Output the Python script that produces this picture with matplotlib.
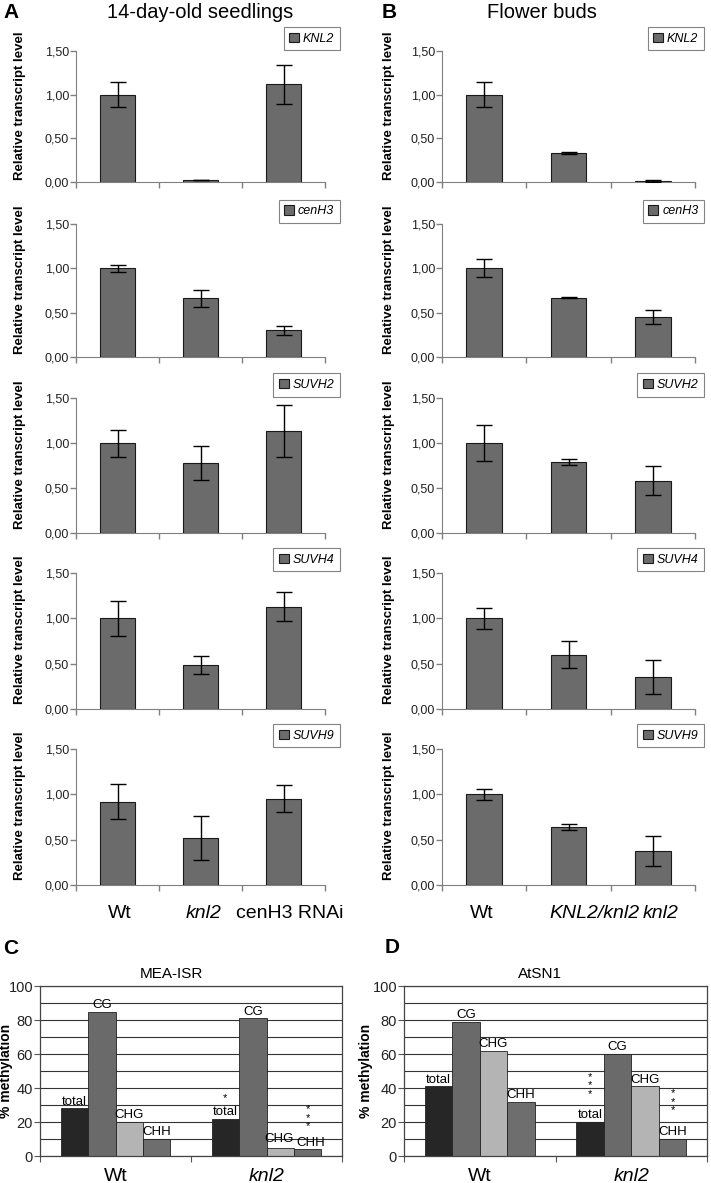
import numpy as np
import matplotlib.pyplot as plt
from matplotlib.ticker import MultipleLocator

plt.rcParams['font.family'] = ['Liberation Sans', 'DejaVu Sans']

# expression data (relative transcript level)
genes = ['KNL2', 'cenH3', 'SUVH2', 'SUVH4', 'SUVH9']
seed_labels = ['Wt', 'knl2', 'cenH3 RNAi']
seed_italic = [False, True, False]
seed_means = [[1.00, 0.02, 1.12],
              [1.00, 0.66, 0.30],
              [1.00, 0.78, 1.13],
              [1.00, 0.49, 1.13],
              [0.92, 0.52, 0.95]]
seed_err = [[0.145, 0.0, 0.225],
            [0.04, 0.10, 0.05],
            [0.15, 0.19, 0.29],
            [0.195, 0.10, 0.155],
            [0.19, 0.24, 0.15]]

bud_labels = ['Wt', 'KNL2/knl2', 'knl2']
bud_italic = [False, True, True]
bud_means = [[1.00, 0.33, 0.01],
             [1.00, 0.67, 0.45],
             [1.00, 0.79, 0.58],
             [1.00, 0.60, 0.35],
             [1.00, 0.64, 0.37]]
bud_err = [[0.14, 0.015, 0.01],
           [0.10, 0.01, 0.08],
           [0.20, 0.03, 0.16],
           [0.115, 0.15, 0.185],
           [0.06, 0.03, 0.165]]

# methylation data (%)
contexts = ['total', 'CG', 'CHG', 'CHH']
meth_groups = ['Wt', 'knl2']
mea_wt = [28, 85, 20, 10]
mea_knl2 = [22, 81, 5, 4]
atsn1_wt = [41, 79, 62, 32]
atsn1_knl2 = [20, 60, 41, 10]
# (group, context, number of stars, height of lowest star)
mea_stars = [(1, 0, 1, 34), (1, 3, 3, 17.6)]
atsn1_stars = [(1, 0, 3, 36.5), (1, 3, 3, 27)]

W, H = 711, 1183
fig = plt.figure(figsize=(W / 100, H / 100), dpi=100)


def ax_px(l, t, r, b):
    return fig.add_axes([l / W, 1 - b / H, (r - l) / W, (b - t) / H])


rows_px = [(51, 182), (224, 357), (398, 533), (573, 709), (749, 885)]


def draw_expr(ax, means, errs, gene, leg_x, ylab_x):
    x = np.arange(3)
    ax.bar(x, means, width=0.42, color='#6b6b6b', edgecolor='#1a1a1a',
           linewidth=0.8, label=gene, zorder=2)
    ax.errorbar(x, means, yerr=errs, fmt='none', ecolor='black',
                elinewidth=1, capsize=6, capthick=1, zorder=3)
    ax.set_xlim(-0.5, 2.5)
    ax.set_ylim(0, 1.5)
    for s in ['top', 'right']:
        ax.spines[s].set_visible(False)
    for s in ['left', 'bottom']:
        ax.spines[s].set_color('#808080')
    ax.set_yticks([0, 0.5, 1.0, 1.5], ['0,00', '0,50', '1,00', '1,50'])
    ax.set_xticks([-0.5, 0.5, 1.5, 2.5], [])
    ax.tick_params(colors='#808080', labelcolor='#222', length=4, width=1,
                   labelsize=9, pad=1)
    ax.set_ylabel('Relative transcript level', fontweight='bold', fontsize=9.5)
    ax.yaxis.set_label_coords(ylab_x, 0.58)
    leg = ax.legend(loc='upper right', bbox_to_anchor=(leg_x, 1.183),
                    borderaxespad=0, fancybox=False, handlelength=0.8,
                    handleheight=0.8, handletextpad=0.3, borderpad=0.45,
                    prop=dict(style='italic', size=9))
    leg.get_frame().set_edgecolor('#666')
    leg.get_frame().set_linewidth(0.8)


def cat_labels(ax, labels, italic, dy, dxs):
    for i, (lab, it) in enumerate(zip(labels, italic)):
        ax.annotate(lab, (i, 0), xycoords=('data', 'axes fraction'),
                    xytext=(dxs[i], -dy), textcoords='offset pixels',
                    ha='center', va='baseline', fontsize=14,
                    style='italic' if it else 'normal')


for r, (t, b) in enumerate(rows_px):
    axa = ax_px(76, t, 325, b)
    draw_expr(axa, seed_means[r], seed_err[r], genes[r], 1.06, -0.20)
    axb = ax_px(442, t, 695, b)
    draw_expr(axb, bud_means[r], bud_err[r], genes[r], 1.036, -0.186)
    if r == len(rows_px) - 1:
        cat_labels(axa, seed_labels, seed_italic, 33, [2, 3, 6])
        cat_labels(axb, bud_labels, bud_italic, 33, [-2, 26, 8])

meth_colors = ['#262626', '#6a6a6a', '#b4b4b4', '#6e6e6e']


def draw_meth(ax, wt, kn, title, title_x, stars, ylab_x, shifts):
    vals = np.array([wt, kn])
    w = 0.182
    offs = (np.arange(4) - 1.5) * w
    xs = np.arange(2)
    for j in range(4):
        bars = ax.bar(xs + offs[j], vals[:, j], width=w, color=meth_colors[j],
                      edgecolor='#222', linewidth=0.6, zorder=2)
        for g, (bar, v) in enumerate(zip(bars, vals[:, j])):
            dx, dy = shifts.get((g, j), (0, 0))
            ax.annotate(contexts[j], (bar.get_x() + bar.get_width() / 2, v),
                        xytext=(dx, 0.5 + dy), textcoords='offset points',
                        ha='center', va='bottom', fontsize=9.5)
    for g, c, n, y0 in stars:
        for k in range(n):
            ax.text(xs[g] + offs[c], y0 + 5 * k, '*', ha='center',
                    va='center', fontsize=8)
    ax.set_xlim(-0.5, 1.5)
    ax.set_ylim(0, 100)
    ax.set_yticks(range(0, 101, 20))
    ax.yaxis.set_minor_locator(MultipleLocator(10))
    ax.grid(axis='y', which='both', color='#333', linewidth=0.8)
    ax.set_axisbelow(True)
    ax.set_xticks([-0.5, 0.5, 1.5], [])
    ax.tick_params(axis='y', which='minor', length=0)
    ax.tick_params(colors='#555', labelcolor='#222', length=4, labelsize=10.5,
                   pad=1)
    for s in ax.spines.values():
        s.set_color('#444')
        s.set_linewidth(0.9)
    ax.text(title_x, 1.03, title, transform=ax.transAxes, ha='center',
            va='bottom', fontsize=11)
    ax.set_ylabel('% methylation', fontweight='bold', fontsize=10)
    ax.yaxis.set_label_coords(ylab_x, 0.5)
    for i, lab in enumerate(meth_groups):
        ax.annotate(lab, (i, 0), xycoords=('data', 'axes fraction'),
                    xytext=(0, -25), textcoords='offset pixels',
                    ha='center', va='baseline', fontsize=14,
                    style='italic' if i == 1 else 'normal')


axc = ax_px(40, 986, 342, 1156)
draw_meth(axc, mea_wt, mea_knl2, 'MEA-ISR', 0.434, mea_stars, -0.089,
          {(1, 2): (-1, 1.5), (1, 3): (2.5, 0)})
axd = ax_px(404, 986, 707, 1156)
draw_meth(axd, atsn1_wt, atsn1_knl2, 'AtSN1', 0.449, atsn1_stars, -0.102, {})

# panel letters and headings
fig.text(3 / W, 1 - 18 / H, 'A', fontsize=15, fontweight='bold', va='baseline')
fig.text(382 / W, 1 - 18 / H, 'B', fontsize=15, fontweight='bold', va='baseline')
fig.text(3 / W, 1 - 954 / H, 'C', fontsize=15, fontweight='bold', va='baseline')
fig.text(385 / W, 1 - 953 / H, 'D', fontsize=15, fontweight='bold', va='baseline')
fig.text(200 / W, 1 - 18 / H, '14-day-old seedlings', fontsize=14.5,
         ha='center', va='baseline')
fig.text(542 / W, 1 - 18 / H, 'Flower buds', fontsize=14.5,
         ha='center', va='baseline')

fig.savefig('out.png', dpi=100)
